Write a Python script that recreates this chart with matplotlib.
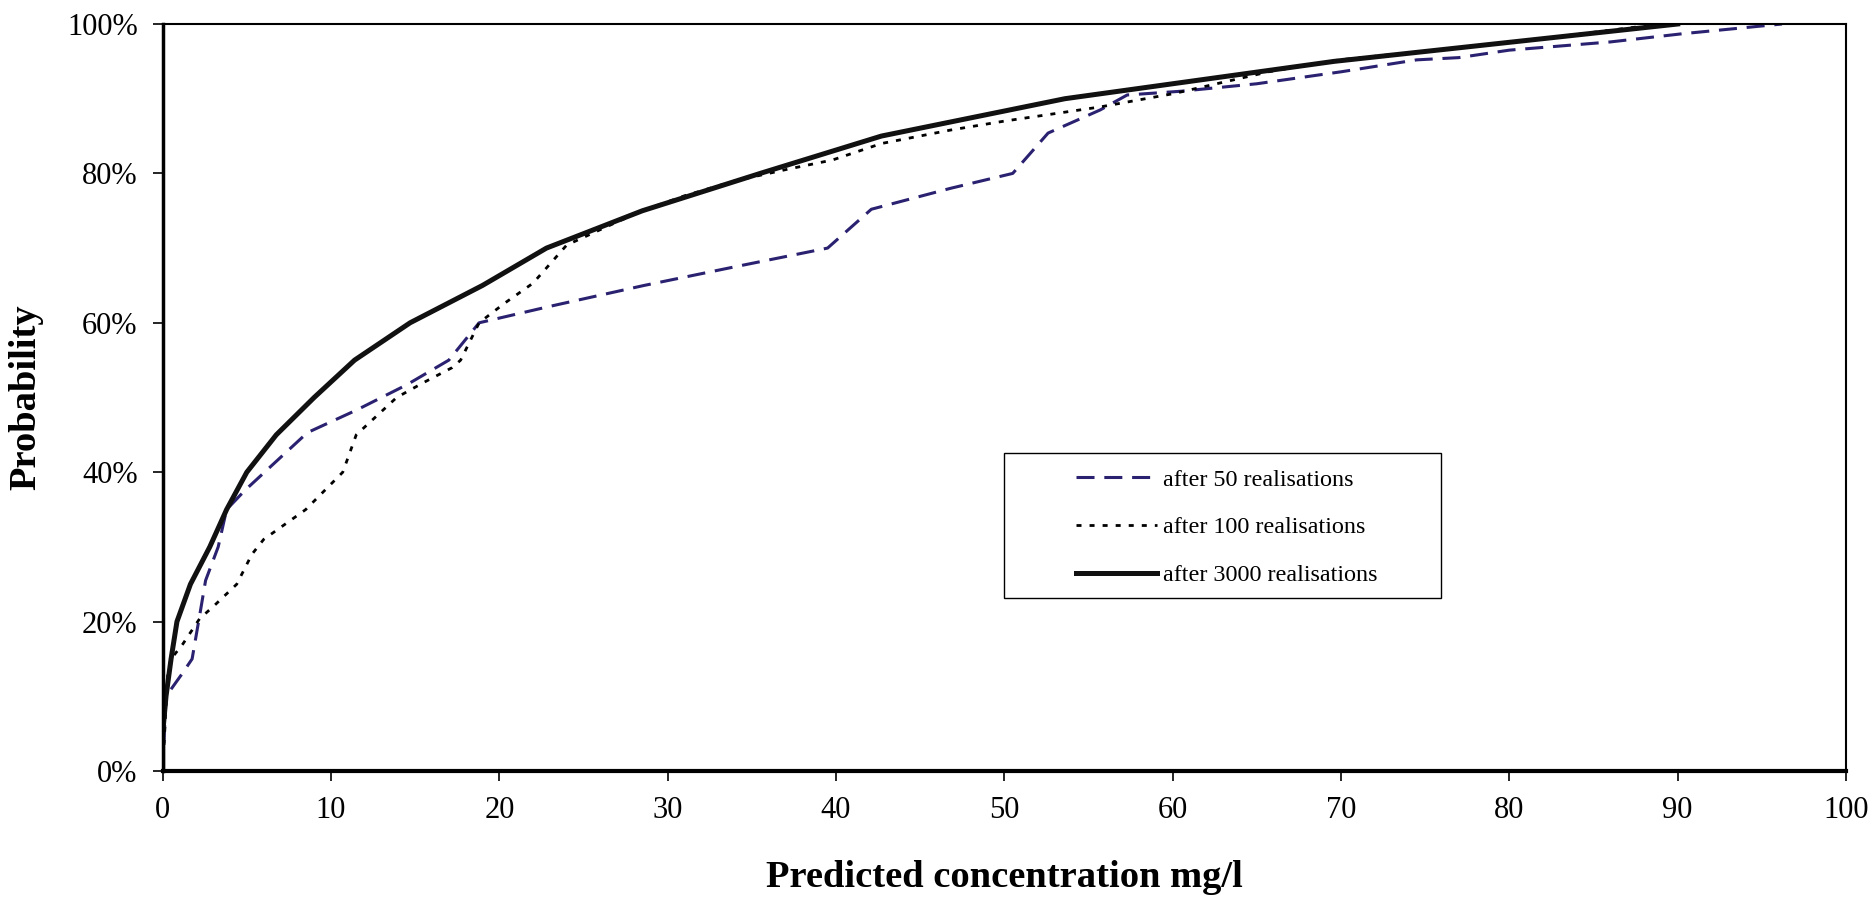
import matplotlib
matplotlib.use("Agg")
import matplotlib.pyplot as plt
from matplotlib.patches import Rectangle
from matplotlib.ticker import PercentFormatter, MultipleLocator

plt.rcParams['font.family'] = ['Liberation Serif', 'DejaVu Serif']

# valores (x em mg/l, y em %)
x_50 = [0, 0.2, 1.15, 1.75, 2.25, 2.55, 3.3, 3.8, 4.9, 8.6, 11.5, 14.5, 17.0, 18.8,
        23.0, 28.6, 34.0, 39.5, 42.1, 46.8, 50.5, 52.6, 55.7, 57.3, 60.5, 65.0,
        70.0, 74.5, 77.0, 80.0, 86.0, 90.3, 96.2]
y_50 = [0, 10, 13, 15, 21.5, 25.5, 30, 35, 37.6, 45.3, 48.3, 51.7, 55, 60,
        62.2, 65, 67.5, 70, 75.2, 78, 80, 85.4, 88.5, 90.5, 91, 92,
        93.6, 95.2, 95.5, 96.5, 97.6, 98.7, 100]

x_100 = [0, 0.3, 0.5, 1.2, 2.2, 3.0, 4.4, 5.3, 6.0, 8.5, 10.7, 11.5, 13.9, 15.5,
         17.2, 17.7, 18.8, 20.3, 22.0, 24.0, 26.8, 28.5, 31.0, 34.0, 37.0, 39.8,
         42.7, 46.8, 50.0, 55.7, 60.1, 65.7, 69.9, 80.0, 89.0]
y_100 = [0, 13, 15, 17, 20.4, 22, 25, 29, 31, 35, 40, 45, 50, 52,
         54, 55, 60, 62.6, 65.3, 70.4, 73.3, 75, 77, 79, 80.5, 81.8,
         84, 85.8, 87, 88.9, 90.7, 93.6, 95.2, 97.5, 100]

x_3000 = [0, 0, 0.2, 0.5, 0.85, 1.65, 2.8, 3.8, 5.0, 6.75, 9.0, 11.4, 14.7, 19.0,
          22.8, 28.5, 35.5, 42.7, 53.6, 69.6, 90.0]
y_3000 = [0, 5, 10, 15, 20, 25, 30, 35, 40, 45, 50, 55, 60, 65,
          70, 75, 80, 85, 90, 95, 100]

fig = plt.figure(figsize=(18.76, 8.99), dpi=100)
ax = fig.add_axes([0.0867, 0.1424, 0.8973, 0.8309])

ax.plot(x_50, y_50, color='#2a2270', lw=2.2, dashes=(5.9, 3.2), label='after 50 realisations')
ax.plot(x_100, y_100, color='black', lw=2.0, dashes=(1.8, 2.9), label='after 100 realisations')
ax.plot(x_3000, y_3000, color='#111111', lw=3.6, solid_joinstyle='miter', label='after 3000 realisations')

ax.set_xlim(0, 100)
ax.set_ylim(0, 100)
ax.xaxis.set_major_locator(MultipleLocator(10))
ax.yaxis.set_major_locator(MultipleLocator(20))
ax.yaxis.set_major_formatter(PercentFormatter(decimals=0))

ax.tick_params(axis='both', direction='out', length=7, width=1.2, labelsize=22, pad=11)
ax.spines['left'].set_linewidth(2.5)
ax.spines['bottom'].set_linewidth(3)
ax.spines['top'].set_linewidth(1.5)
ax.spines['right'].set_linewidth(1.5)

ax.set_xlabel('Predicted concentration mg/l', fontsize=27.7, fontweight='bold', va='center')
ax.set_ylabel('Probability', fontsize=27.7, fontweight='bold', va='center')
ax.xaxis.set_label_coords(0.5, -0.142)
ax.yaxis.set_label_coords(-0.081, 0.5)

# moldura da legenda desenhada à parte (estilo Excel, com espaço à esquerda)
ax.add_patch(Rectangle((0.4999, 0.2316), 0.2595, 0.1941, transform=ax.transAxes,
                       facecolor='white', edgecolor='black', lw=1.0, zorder=4))
leg = ax.legend(loc='upper left', bbox_to_anchor=(0.5426, 0.4043), fontsize=17.4,
                frameon=False, handlelength=3.35, handletextpad=0.25,
                labelspacing=1.06, borderpad=0, borderaxespad=0)
leg.set_zorder(5)

fig.savefig('out.png', dpi=100, facecolor='white')
